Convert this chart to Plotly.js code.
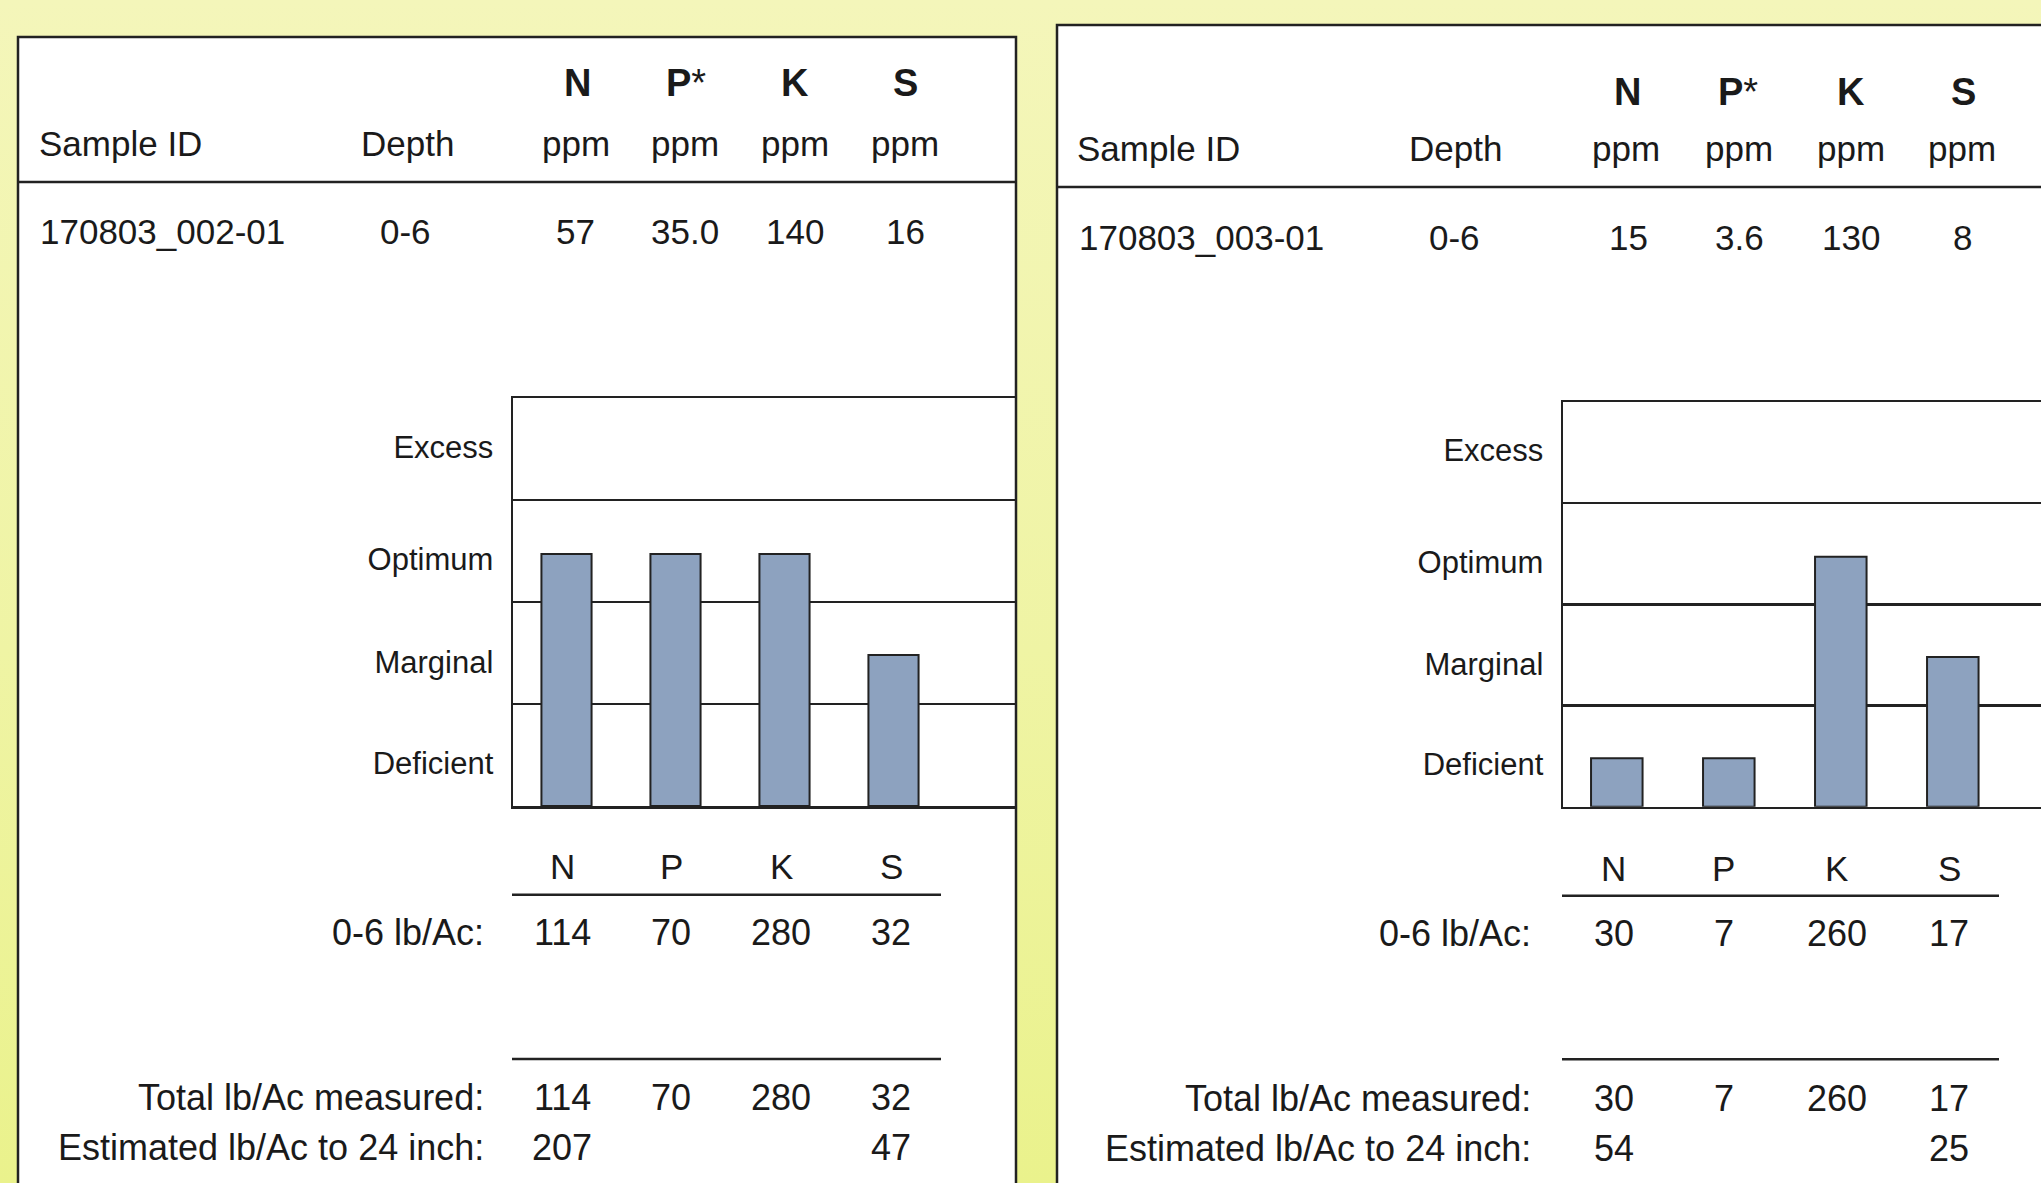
<!DOCTYPE html>
<html>
<head>
<meta charset="utf-8">
<script src="https://cdn.plot.ly/plotly-3.0.1.min.js"></script>
<style>
  html, body { margin: 0; padding: 0; }
  body { width: 2041px; height: 1183px; overflow: hidden;
         background: linear-gradient(to bottom, #F4F6BA 0%, #EFF4A4 55%, #EAF28C 100%); }
  #chart { width: 2041px; height: 1183px; }
</style>
</head>
<body>
<div id="chart"></div>
<script>
// ---------------- DATA ----------------
const elementHeads = ['N', 'P*', 'K', 'S'];
const unitLabel = 'ppm';
const sampleIds = ['170803_002-01', '170803_003-01'];
const depths = ['0-6', '0-6'];
const ppmValues = [
  ['57', '35.0', '140', '16'],
  ['15', '3.6', '130', '8']
];
const barCats = ['N', 'P', 'K', 'S'];
// sufficiency level (0-1 Deficient, 1-2 Marginal, 2-3 Optimum, 3-4 Excess)
const barLevelsLeft = [2.47, 2.47, 2.47, 1.48];
const barLevelsRight = [0.48, 0.48, 2.47, 1.48];
const levelNames = ['Deficient', 'Marginal', 'Optimum', 'Excess'];
const levelPos = [0.42, 1.41, 2.42, 3.52];
const bandEdges = [1, 2, 3];
const tableCols = ['N', 'P', 'K', 'S'];
const rowLabels = ['0-6 lb/Ac:', 'Total lb/Ac measured:', 'Estimated lb/Ac to 24 inch:'];
const lb06 = [['114', '70', '280', '32'], ['30', '7', '260', '17']];
const totalMeasured = [['114', '70', '280', '32'], ['30', '7', '260', '17']];
const est24 = [['207', '', '', '47'], ['54', '', '', '25']];

// ---------------- LAYOUT HELPERS ----------------
const W = 2041, H = 1183;
const px = x => x / W;
const py = y => 1 - y / H;
const FONT = 'Liberation Sans, Arial, Helvetica, sans-serif';
const INK = '#1a1a1a';
const LINE = '#222222';

// per-panel geometry (pixels)
const G = [
  { panel: [18, 1016, 37], hdrLine: 182,
    boldX: [577, 686, 795, 905], boldY: 83,
    unitX: [576, 684.5, 795, 904.6], unitY: 143,
    idX: 39.5, depthX: 407, dataY: 232, dataX: [575.5, 684.5, 795, 905],
    chart: [513, 1016, 398, 806], cat0: 566.5, catStep: 109,
    colX: [562, 671, 781, 891], colY: 866, line1: 894.7, line2: 1059, lineX: [512, 941],
    rowY: [932, 1097, 1147], labelRight: 483 },
  { panel: [1057, 2060, 25], hdrLine: 187,
    boldX: [1627, 1738, 1851, 1963], boldY: 92,
    unitX: [1626.4, 1739, 1850.8, 1961.7], unitY: 148.7,
    idX: 1078.4, depthX: 1455.5, dataY: 237.5, dataX: [1628.3, 1739, 1850.8, 1962.3],
    chart: [1563, 2041, 402, 806.7], cat0: 1616.8, catStep: 112,
    colX: [1613.5, 1723.5, 1836.5, 1949.3], colY: 868.7, line1: 895.7, line2: 1059.3, lineX: [1562, 1999],
    rowY: [933, 1098, 1148], labelRight: 1530 }
];

const annotations = [];
function A(text, x, y, xanchor, size) {
  const dx = xanchor === 'left' ? -3 : (xanchor === 'right' ? 3 : 0);
  annotations.push({
    text: text,
    xref: 'paper', yref: 'paper', x: px(x + dx), y: py(y),
    xanchor: xanchor, yanchor: 'middle', showarrow: false,
    font: { family: FONT, size: size, color: INK }
  });
}
function boldHead(t) {
  // element symbol in bold; a trailing asterisk stays regular weight
  return t.endsWith('*') ? '<b>' + t.slice(0, -1) + '</b>*' : '<b>' + t + '</b>';
}

const shapes = [];
function rect(x0, x1, y0, y1, fill, lw, layer) {
  shapes.push({ type: 'rect', xref: 'paper', yref: 'paper',
    x0: px(x0), x1: px(x1), y0: py(y0), y1: py(y1),
    fillcolor: fill, line: { color: LINE, width: lw }, layer: layer });
}
function hline(x0, x1, y, lw) {
  shapes.push({ type: 'line', xref: 'paper', yref: 'paper',
    x0: px(x0), x1: px(x1), y0: py(y), y1: py(y),
    line: { color: LINE, width: lw }, layer: 'above' });
}

const traces = [];
const layout = {
  width: W, height: H,
  margin: { l: 0, r: 0, t: 0, b: 0, pad: 0 },
  paper_bgcolor: 'rgba(0,0,0,0)',
  plot_bgcolor: 'rgba(0,0,0,0)',
  showlegend: false,
  bargap: 0,
  annotations: annotations,
  shapes: shapes
};

const levels = [barLevelsLeft, barLevelsRight];

G.forEach((g, i) => {
  const [px0, px1, ptop] = g.panel;
  rect(px0, px1, ptop, H + 60, '#ffffff', 0, 'below');
  rect(px0, px1, ptop, H + 60, 'rgba(0,0,0,0)', 2.5, 'above');
  hline(px0, px1, g.hdrLine, 2.5);

  // header
  elementHeads.forEach((t, j) => A(boldHead(t), g.boldX[j], g.boldY, 'center', 38));
  A('Sample ID', g.idX, g.unitY, 'left', 35);
  A('Depth', g.depthX, g.unitY, 'center', 35);
  g.unitX.forEach(x => A(unitLabel, x, g.unitY, 'center', 35));
  A(sampleIds[i], g.idX + 1.5, g.dataY, 'left', 35);
  A(depths[i], g.depthX - 1.5, g.dataY, 'center', 35);
  ppmValues[i].forEach((v, j) => A(v, g.dataX[j], g.dataY, 'center', 35));

  // table
  tableCols.forEach((c, j) => A(c, g.colX[j], g.colY, 'center', 35));
  hline(g.lineX[0], g.lineX[1], g.line1, 2.5);
  hline(g.lineX[0], g.lineX[1], g.line2, 2.5);
  const rows = [lb06[i], totalMeasured[i], est24[i]];
  rows.forEach((r, k) => {
    A(rowLabels[k], g.labelRight, g.rowY[k], 'right', 36);
    r.forEach((v, j) => { if (v !== '') A(v, g.colX[j], g.rowY[k], 'center', 36); });
  });

  // bar chart
  const [cx0, cx1, cy0, cy1] = g.chart;
  const xa = i === 0 ? 'xaxis' : 'xaxis2';
  const ya = i === 0 ? 'yaxis' : 'yaxis2';
  const xr = i === 0 ? 'x' : 'x2';
  const yr = i === 0 ? 'y' : 'y2';
  traces.push({
    type: 'bar', x: barCats, y: levels[i], xaxis: xr, yaxis: yr,
    width: 0.46, hoverinfo: 'skip',
    marker: { color: '#8DA2BF', line: { color: LINE, width: 2 } }
  });
  layout[xa] = {
    domain: [px(cx0), px(cx1)],
    range: [-(g.cat0 - cx0) / g.catStep, (cx1 - g.cat0) / g.catStep],
    type: 'category', anchor: yr,
    showticklabels: false, ticks: '', showgrid: false, zeroline: false,
    showline: true, linecolor: LINE, linewidth: 2.5, mirror: true, fixedrange: true
  };
  layout[ya] = {
    domain: [py(cy1), py(cy0)], range: [0, 4], anchor: xr,
    tickmode: 'array', tickvals: levelPos, ticktext: levelNames,
    ticks: '', ticklabelstandoff: 11,
    tickfont: { family: FONT, size: 31, color: INK },
    showgrid: false, zeroline: false,
    showline: true, linecolor: LINE, linewidth: 2.5, mirror: false, fixedrange: true,
    minor: { tickmode: 'array', tickvals: bandEdges, showgrid: true,
             gridcolor: LINE, gridwidth: 2.5, ticks: '' }
  };
});

Plotly.newPlot('chart', traces, layout, { displayModeBar: false, staticPlot: true });
</script>
</body>
</html>
